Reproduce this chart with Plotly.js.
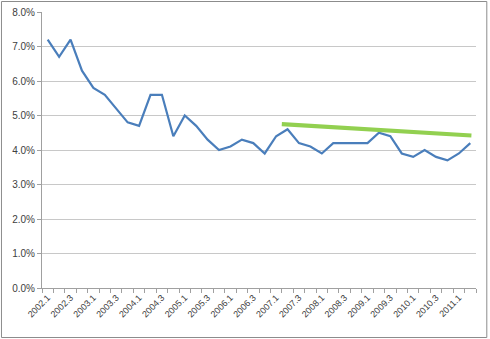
<!DOCTYPE html>
<html>
<head>
<meta charset="utf-8">
<script src="https://cdn.plot.ly/plotly-3.0.1.min.js"></script>
<style>
html,body{margin:0;padding:0;background:#fff;}
#chart{width:490px;height:339px;}
</style>
</head>
<body>
<div id="chart"></div>
<script>
// Quarter categories
const quarters = [
  "2002.1","2002.2","2002.3","2002.4",
  "2003.1","2003.2","2003.3","2003.4",
  "2004.1","2004.2","2004.3","2004.4",
  "2005.1","2005.2","2005.3","2005.4",
  "2006.1","2006.2","2006.3","2006.4",
  "2007.1","2007.2","2007.3","2007.4",
  "2008.1","2008.2","2008.3","2008.4",
  "2009.1","2009.2","2009.3","2009.4",
  "2010.1","2010.2","2010.3","2010.4",
  "2011.1","2011.2"
];
// Series values (percent)
const rate = [
  7.2,6.7,7.2,6.3,
  5.8,5.6,5.2,4.8,
  4.7,5.6,5.6,4.4,
  5.0,4.7,4.3,4.0,
  4.1,4.3,4.2,3.9,
  4.4,4.6,4.2,4.1,
  3.9,4.2,4.2,4.2,
  4.2,4.5,4.4,3.9,
  3.8,4.0,3.8,3.7,
  3.9,4.2
];
// Trend line (green) start/end
const trendQuarters = ["2007.1","2011.2"];
const trendValues = [4.75,4.42];
// Tick labels shown (every second quarter)
const tickLabels = quarters.filter((q,i)=>i%2===0);

const idx = quarters.map((q,i)=>i);
const tickVals = tickLabels.map(q=>quarters.indexOf(q));
const boundaries = [];
for(let i=0;i<=quarters.length;i++) boundaries.push(i-0.5);
const trendX = [quarters.indexOf(trendQuarters[0])+0.5, quarters.indexOf(trendQuarters[1])+0.1];

const L=42, R=14.3, T=12, B=51, W=490, H=339;
const pw=W-L-R, ph=H-T-B;
const px = v=>(v-L)/pw, py = v=>(H-B-v)/ph;

const traces = [
  {x: idx, y: rate, type:'scatter', mode:'lines', line:{color:'#4a7ebb', width:2.2}, hoverinfo:'skip'},
  {x: trendX, y: trendValues, type:'scatter', mode:'lines', line:{color:'#92d050', width:4.2}, hoverinfo:'skip'}
];

const layout = {
  width:W, height:H,
  margin:{l:L, r:R, t:T, b:B, pad:0},
  showlegend:false,
  paper_bgcolor:'#fff', plot_bgcolor:'#fff',
  font:{family:'Liberation Sans, Arial, sans-serif', color:'#404040'},
  xaxis:{
    range:[-0.5, quarters.length-0.5],
    tickmode:'array', tickvals:tickVals, ticktext:tickLabels,
    tickangle:-45, ticks:'', tickfont:{size:9, color:'#404040'},
    showgrid:false, zeroline:false,
    showline:true, linecolor:'#a0a0a0', linewidth:1,
    minor:{tickmode:'array', tickvals:boundaries, ticks:'outside', ticklen:4, tickcolor:'#a0a0a0', showgrid:false}
  },
  yaxis:{
    range:[0,8], dtick:1, tickformat:'.1f', ticksuffix:'%',
    ticks:'outside', ticklen:4, tickcolor:'#a0a0a0',
    tickfont:{size:10, color:'#404040'},
    showgrid:true, gridcolor:'#c8c8c8', gridwidth:1,
    zeroline:false, showline:true, linecolor:'#a0a0a0', linewidth:1
  },
  shapes:[
    {type:'rect', xref:'paper', yref:'paper', x0:px(1.5), x1:px(486.5), y0:py(337.5), y1:py(1.5),
     line:{color:'#8c8c8c', width:1}, fillcolor:'rgba(0,0,0,0)', layer:'below'}
  ]
};

Plotly.newPlot('chart', traces, layout, {staticPlot:true, displayModeBar:false});
</script>
</body>
</html>
